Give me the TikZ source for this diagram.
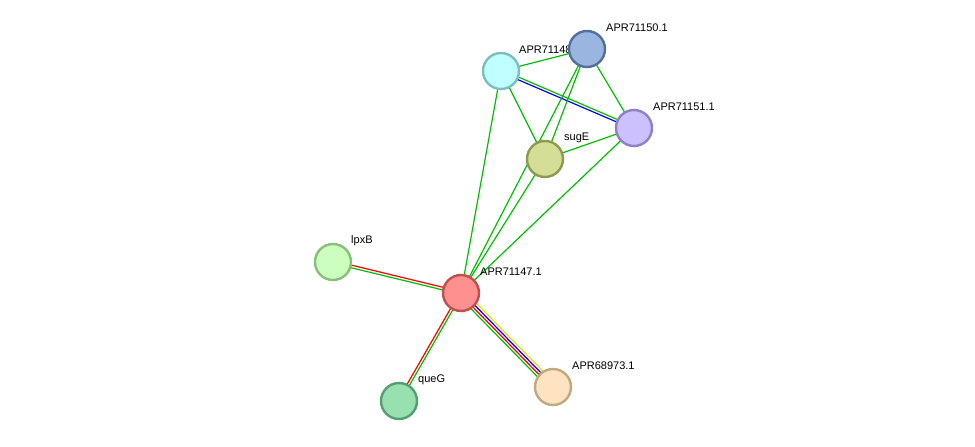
\documentclass[tikz,border=0pt]{standalone}
\usepackage{fontspec}
\setmainfont{Liberation Sans}
\usetikzlibrary{calc,backgrounds}
\begin{document}
\begin{tikzpicture}[x=1pt,y=-1pt,
  prot/.style={circle,minimum size=36pt,inner sep=0pt,line width=2.4pt},
  lab/.style={anchor=west,font=\fontsize{11}{12}\selectfont,inner sep=0pt},
  e/.style={line width=1.2pt}]
\newcommand{\edg}[4]{\draw[e,#4] ($(#1)!#3!90:(#2)$) -- ($(#2)!#3!-90:(#1)$);}
\useasboundingbox (0,0) rectangle (975,447);
\node[lab] (l148) at (519,50) {APR71148.1};
\node[lab] (l150) at (606,28) {APR71150.1};
\node[lab] (l151) at (653,107) {APR71151.1};
\node[lab] (lsug) at (564,138) {sugE};
\node[lab] (llpx) at (351,241) {lpxB};
\node[lab] (l147) at (480,272) {APR71147.1};
\node[lab] (lque) at (418,380) {queG};
\node[lab] (l689) at (572,366) {APR68973.1};
\node[prot,fill={rgb,255:red,192;green,255;blue,255},draw={rgb,255:red,124;green,190;blue,190}] (n148) at (501,71) {};
\node[prot,fill={rgb,255:red,154;green,181;blue,224},draw={rgb,255:red,86;green,110;blue,158}] (n150) at (587,49) {};
\node[prot,fill={rgb,255:red,204;green,192;blue,255},draw={rgb,255:red,144;green,128;blue,200}] (n151) at (634,128) {};
\node[prot,fill={rgb,255:red,212;green,222;blue,150},draw={rgb,255:red,142;green,154;blue,80}] (nsug) at (545,159) {};
\node[prot,fill={rgb,255:red,204;green,255;blue,191},draw={rgb,255:red,136;green,192;blue,120}] (nlpx) at (333,262) {};
\node[prot,fill={rgb,255:red,255;green,144;blue,144},draw={rgb,255:red,192;green,80;blue,80}] (n147) at (461,293) {};
\node[prot,fill={rgb,255:red,153;green,224;blue,176},draw={rgb,255:red,80;green,160;blue,112}] (nque) at (399,401) {};
\node[prot,fill={rgb,255:red,255;green,227;blue,192},draw={rgb,255:red,192;green,168;blue,128}] (n689) at (553,387) {};
\begin{pgfonlayer}{background}
\colorlet{eg}{green!75!black}
\edg{n148}{n150}{0pt}{eg}
\edg{n148}{n151}{-1.3pt}{blue}
\edg{n148}{n151}{1.3pt}{eg}
\edg{n148}{nsug}{0pt}{eg}
\edg{n148}{n147}{0pt}{eg}
\edg{n150}{n151}{0pt}{eg}
\edg{n150}{nsug}{0pt}{eg}
\edg{n150}{n147}{0pt}{eg}
\edg{nsug}{n147}{0pt}{eg}
\edg{nsug}{n151}{0pt}{eg}
\edg{n151}{n147}{0pt}{eg}
\edg{nlpx}{n147}{-1.3pt}{eg}
\edg{nlpx}{n147}{1.3pt}{red}
\edg{nque}{n147}{-1.3pt}{eg}
\edg{nque}{n147}{1.3pt}{red}
\edg{n147}{n689}{-3.9pt}{eg}
\edg{n147}{n689}{-1.3pt}{red}
\edg{n147}{n689}{1.3pt}{blue}
\edg{n147}{n689}{3.9pt}{yellow!80!olive}
\end{pgfonlayer}
\end{tikzpicture}
\end{document}
